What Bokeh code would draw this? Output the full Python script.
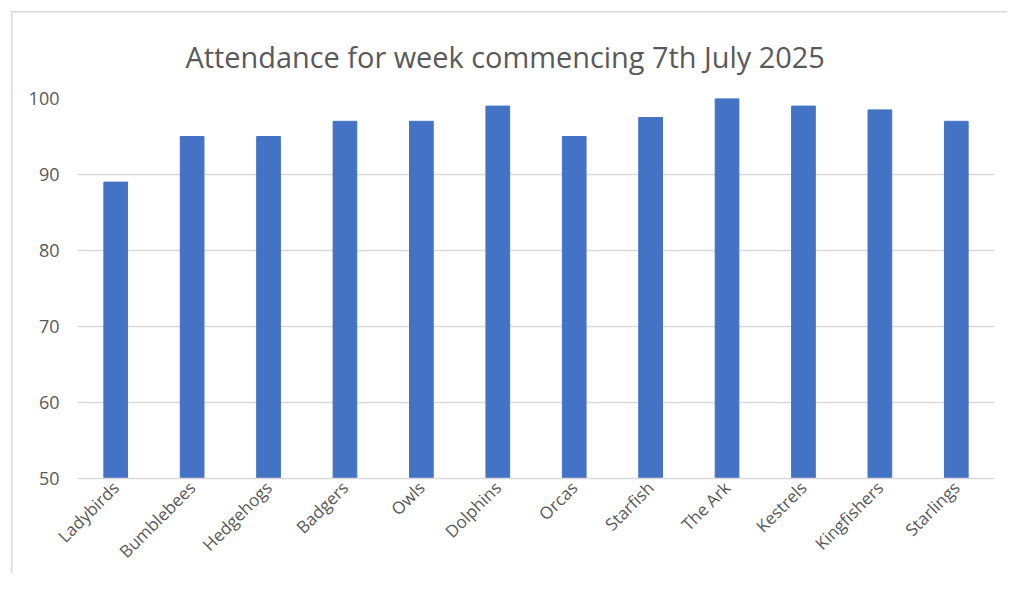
import math
from bokeh.plotting import figure
from bokeh.models import FactorRange, FixedTicker, Title
from bokeh.embed import file_html
from bokeh.resources import INLINE

groups = ["Ladybirds", "Bumblebees", "Hedgehogs", "Badgers", "Owls", "Dolphins",
          "Orcas", "Starfish", "The Ark", "Kestrels", "Kingfishers", "Starlings"]
attendance = [89, 95, 95, 97, 97, 99, 95, 97.5, 100, 99, 98.5, 97]
y_ticks = [50, 60, 70, 80, 90, 100]
title_text = "Attendance for week commencing 7th July 2025"

FONT = "Open Sans"
GREY = "#595959"
BORDER = "#d9d9d9"

p = figure(width=1007, height=573, output_backend="svg", toolbar_location=None,
           x_range=FactorRange(*groups, range_padding=0), y_range=(50, 100),
           min_border_left=77, min_border_right=13, min_border_top=98, min_border_bottom=95)

p.vbar(x=groups, top=attendance, bottom=50, width=0.31, fill_color="#4472C4", line_color="#4472C4")

p.title = None
t = Title(text=title_text, align="left", offset=108, text_font=FONT, text_font_size="28.9px",
          text_color=GREY, text_font_style="normal", standoff=46)
p.add_layout(t, "above")

p.outline_line_color = None
p.border_fill_color = None
p.background_fill_color = "white"
p.styles = {
    "background": (f"linear-gradient({BORDER},{BORDER}) 11px 11px / 1008px 1.5px no-repeat, "
                   f"linear-gradient({BORDER},{BORDER}) 11px 11px / 1.5px 700px no-repeat, white"),
}
p.xgrid.grid_line_color = None
p.ygrid.grid_line_color = BORDER
p.ygrid.grid_line_width = 1.5

p.yaxis.ticker = FixedTicker(ticks=y_ticks)
p.yaxis.axis_line_color = None
p.yaxis.major_tick_line_color = None
p.yaxis.minor_tick_line_color = None
p.yaxis.major_tick_out = 0
p.yaxis.major_tick_in = 0
p.yaxis.minor_tick_out = 0
p.yaxis.major_label_standoff = 18
p.yaxis.major_label_text_font = FONT
p.yaxis.major_label_text_font_size = "18px"
p.yaxis.major_label_text_color = GREY

p.xaxis.axis_line_color = BORDER
p.xaxis.axis_line_width = 1.5
p.xaxis.major_tick_line_color = None
p.xaxis.minor_tick_line_color = None
p.xaxis.major_tick_out = 0
p.xaxis.major_tick_in = 0
p.xaxis.minor_tick_out = 0
p.xaxis.major_label_orientation = math.pi / 4
p.xaxis.major_label_standoff = 6
p.xaxis.major_label_text_font = FONT
p.xaxis.major_label_text_font_size = "17px"
p.xaxis.major_label_text_color = GREY

open("out.html", "w").write(file_html(p, INLINE))
